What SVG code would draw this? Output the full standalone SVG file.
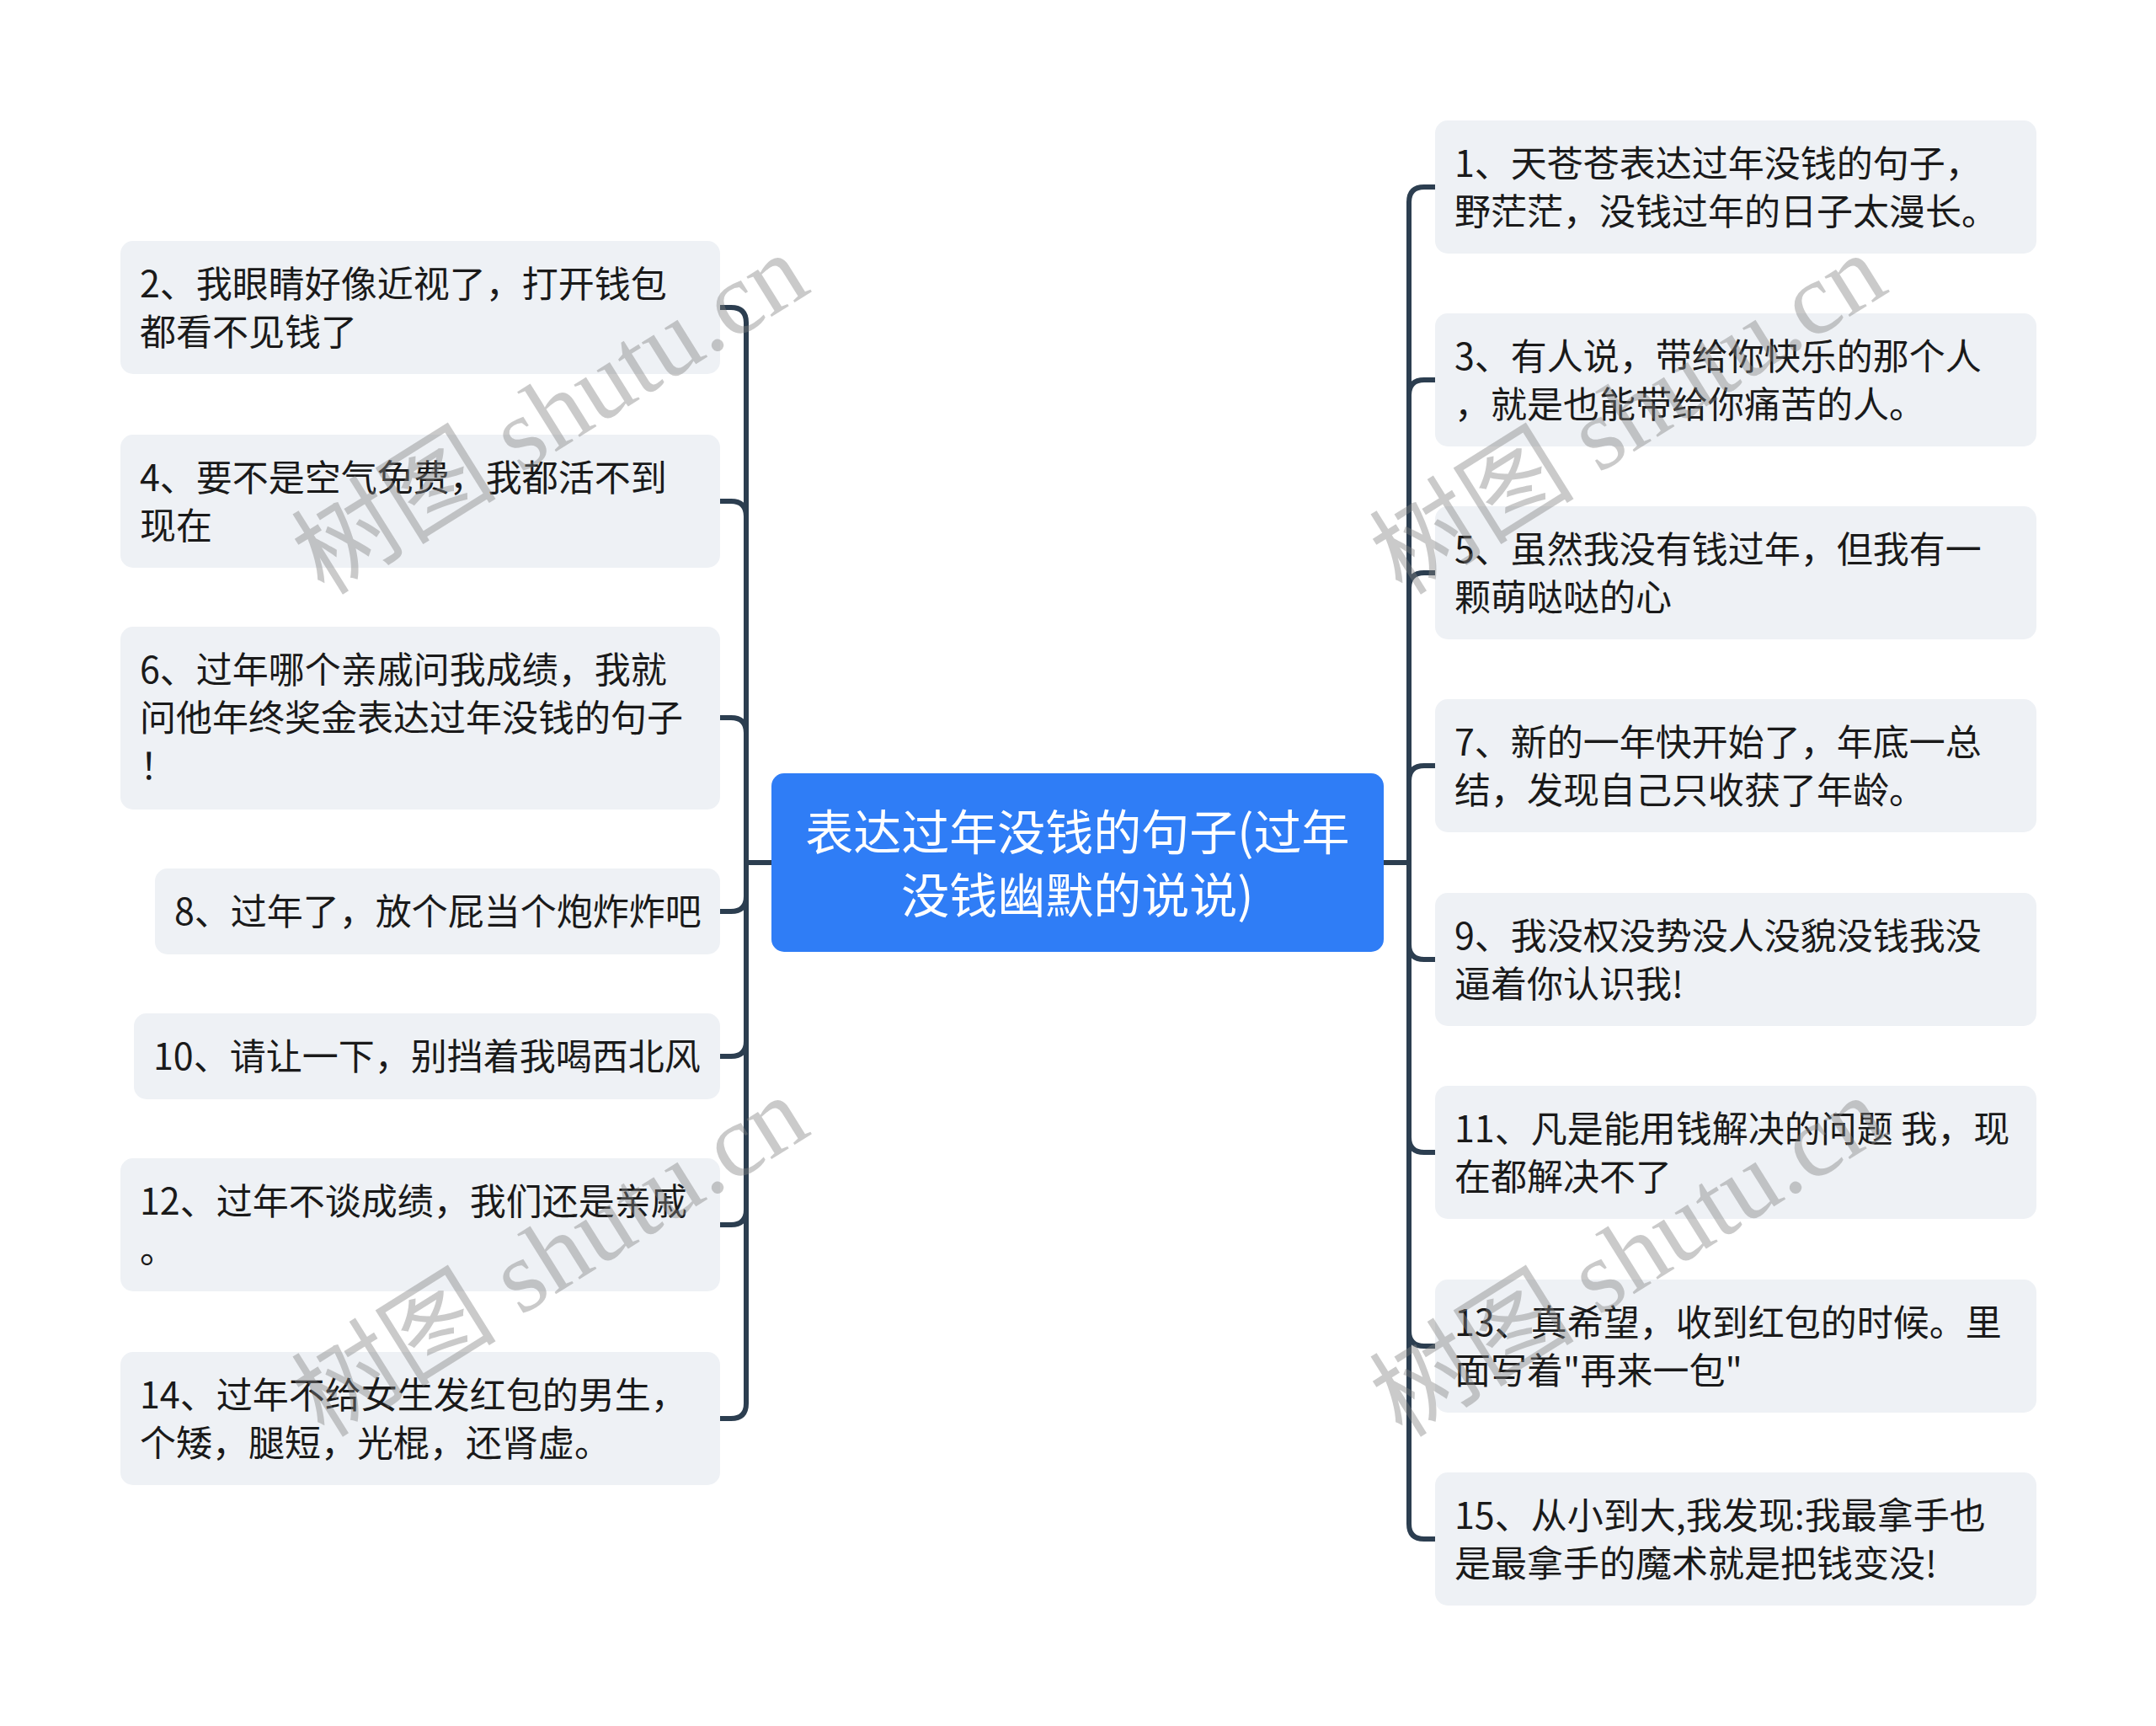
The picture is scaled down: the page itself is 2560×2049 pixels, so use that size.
<svg xmlns="http://www.w3.org/2000/svg" width="2560" height="2049" viewBox="0 0 2560 2049">
<defs>
<style>
.nb{fill:#eef1f5;}
.nt{font-family:"Noto Sans CJK SC","Liberation Sans",sans-serif;font-size:43px;fill:#1a1a1a;}
.ct{font-family:"Noto Sans CJK SC","Liberation Sans",sans-serif;font-size:57px;fill:#ffffff;text-anchor:middle;}
.cn{fill:none;stroke:#2c3e50;stroke-width:6;stroke-linecap:butt;stroke-linejoin:round;}
.wm{font-family:"Liberation Serif","Noto Sans CJK SC",serif;font-size:122px;fill:#808080;fill-opacity:0.42;}
</style>
</defs>
<rect width="2560" height="2049" fill="#ffffff"/>
<g id="connectors">
<path class="cn" d="M916 1024 H886 V383 Q886 365 868 365 H855"/>
<path class="cn" d="M916 1024 H886 V613 Q886 595 868 595 H855"/>
<path class="cn" d="M916 1024 H886 V870 Q886 852 868 852 H855"/>
<path class="cn" d="M916 1024 H886 V1064 Q886 1082 868 1082 H855"/>
<path class="cn" d="M916 1024 H886 V1236 Q886 1254 868 1254 H855"/>
<path class="cn" d="M916 1024 H886 V1436 Q886 1454 868 1454 H855"/>
<path class="cn" d="M916 1024 H886 V1666 Q886 1684 868 1684 H855"/>
<path class="cn" d="M1643 1024 H1673 V240 Q1673 222 1691 222 H1704"/>
<path class="cn" d="M1643 1024 H1673 V469 Q1673 451 1691 451 H1704"/>
<path class="cn" d="M1643 1024 H1673 V698 Q1673 680 1691 680 H1704"/>
<path class="cn" d="M1643 1024 H1673 V927 Q1673 909 1691 909 H1704"/>
<path class="cn" d="M1643 1024 H1673 V1121 Q1673 1139 1691 1139 H1704"/>
<path class="cn" d="M1643 1024 H1673 V1350 Q1673 1368 1691 1368 H1704"/>
<path class="cn" d="M1643 1024 H1673 V1580 Q1673 1598 1691 1598 H1704"/>
<path class="cn" d="M1643 1024 H1673 V1809 Q1673 1827 1691 1827 H1704"/>
</g>
<g id="center">
<rect x="916" y="918" width="727" height="212" rx="15" fill="#2f7df6"/>
<text class="ct" x="1279.5" y="1009">表达过年没钱的句子(过年</text>
<text class="ct" x="1279.5" y="1084">没钱幽默的说说)</text>
</g>
<g id="n2"><rect class="nb" x="143" y="286" width="712" height="158" rx="15"/>
<text class="nt" x="166" y="352.5">2、我眼睛好像近视了，打开钱包</text>
<text class="nt" x="166" y="409.5">都看不见钱了</text></g>
<g id="n4"><rect class="nb" x="143" y="516" width="712" height="158" rx="15"/>
<text class="nt" x="166" y="582.5">4、要不是空气免费，我都活不到</text>
<text class="nt" x="166" y="639.5">现在</text></g>
<g id="n6"><rect class="nb" x="143" y="744" width="712" height="217" rx="15"/>
<text class="nt" x="166" y="811">6、过年哪个亲戚问我成绩，我就</text>
<text class="nt" x="166" y="868">问他年终奖金表达过年没钱的句子</text>
<text class="nt" x="166" y="925">！</text></g>
<g id="n8"><rect class="nb" x="184" y="1031" width="671" height="102" rx="15"/>
<text class="nt" x="207" y="1098">8、过年了，放个屁当个炮炸炸吧</text></g>
<g id="n10"><rect class="nb" x="159" y="1203" width="696" height="102" rx="15"/>
<text class="nt" x="182" y="1270">10、请让一下，别挡着我喝西北风</text></g>
<g id="n12"><rect class="nb" x="143" y="1375" width="712" height="158" rx="15"/>
<text class="nt" x="166" y="1441.5">12、过年不谈成绩，我们还是亲戚</text>
<text class="nt" x="166" y="1498.5">。</text></g>
<g id="n14"><rect class="nb" x="143" y="1605" width="712" height="158" rx="15"/>
<text class="nt" x="166" y="1671.5">14、过年不给女生发红包的男生，</text>
<text class="nt" x="166" y="1728.5">个矮，腿短，光棍，还肾虚。</text></g>
<g id="n1"><rect class="nb" x="1704" y="143" width="714" height="158" rx="15"/>
<text class="nt" x="1727" y="209.5">1、天苍苍表达过年没钱的句子，</text>
<text class="nt" x="1727" y="266.5">野茫茫，没钱过年的日子太漫长。</text></g>
<g id="n3"><rect class="nb" x="1704" y="372" width="714" height="158" rx="15"/>
<text class="nt" x="1727" y="438.5">3、有人说，带给你快乐的那个人</text>
<text class="nt" x="1727" y="495.5">，就是也能带给你痛苦的人。</text></g>
<g id="n5"><rect class="nb" x="1704" y="601" width="714" height="158" rx="15"/>
<text class="nt" x="1727" y="667.5">5、虽然我没有钱过年，但我有一</text>
<text class="nt" x="1727" y="724.5">颗萌哒哒的心</text></g>
<g id="n7"><rect class="nb" x="1704" y="830" width="714" height="158" rx="15"/>
<text class="nt" x="1727" y="896.5">7、新的一年快开始了，年底一总</text>
<text class="nt" x="1727" y="953.5">结，发现自己只收获了年龄。</text></g>
<g id="n9"><rect class="nb" x="1704" y="1060" width="714" height="158" rx="15"/>
<text class="nt" x="1727" y="1126.5">9、我没权没势没人没貌没钱我没</text>
<text class="nt" x="1727" y="1183.5">逼着你认识我!</text></g>
<g id="n11"><rect class="nb" x="1704" y="1289" width="714" height="158" rx="15"/>
<text class="nt" x="1727" y="1355.5">11、凡是能用钱解决的问题 我，现</text>
<text class="nt" x="1727" y="1412.5">在都解决不了</text></g>
<g id="n13"><rect class="nb" x="1704" y="1519" width="714" height="158" rx="15"/>
<text class="nt" x="1727" y="1585.5">13、真希望，收到红包的时候。里</text>
<text class="nt" x="1727" y="1642.5">面写着"再来一包"</text></g>
<g id="n15"><rect class="nb" x="1704" y="1748" width="714" height="158" rx="15"/>
<text class="nt" x="1727" y="1814.5">15、从小到大,我发现:我最拿手也</text>
<text class="nt" x="1727" y="1871.5">是最拿手的魔术就是把钱变没!</text></g>
<g id="watermarks">
<text class="wm" x="385" y="708" transform="rotate(-32 385 708)">树图 shutu.cn</text>
<text class="wm" x="1665" y="708" transform="rotate(-32 1665 708)">树图 shutu.cn</text>
<text class="wm" x="385" y="1708" transform="rotate(-32 385 1708)">树图 shutu.cn</text>
<text class="wm" x="1665" y="1708" transform="rotate(-32 1665 1708)">树图 shutu.cn</text>
</g>
</svg>
